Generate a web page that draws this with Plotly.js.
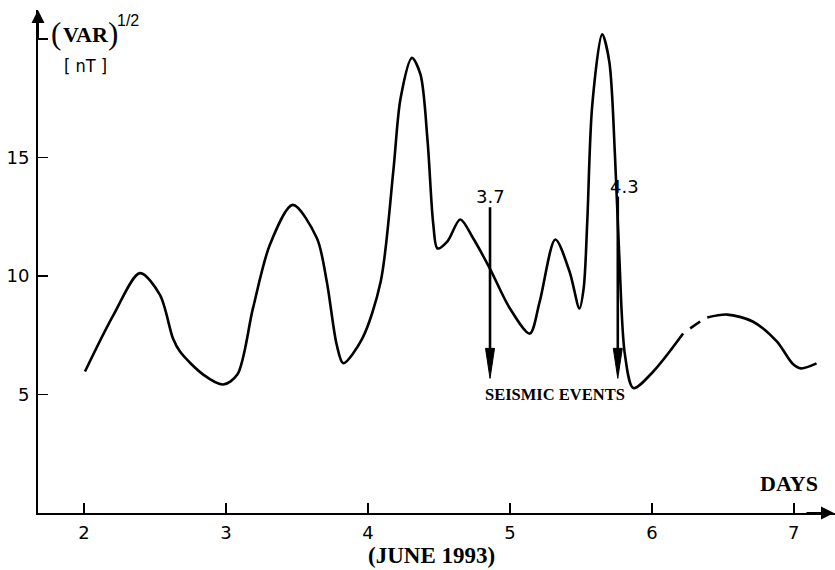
<!DOCTYPE html>
<html>
<head>
<meta charset="utf-8">
<script src="https://cdn.plot.ly/plotly-3.0.1.min.js"></script>
<style>html,body{margin:0;padding:0;background:#fff;}</style>
</head>
<body>
<div id="chart" style="width:835px;height:570px;"></div>
<script>
// Curve (days of June 1993, sqrt(VAR) in nT); null = gap in the line
const days = [2.007, 2.21, 2.394, 2.535, 2.627, 2.676, 2.84, 2.98, 3.08, 3.19, 3.31, 3.47, 3.64, 3.71, 3.78, 3.826,
  3.96, 4.09, 4.18, 4.23, 4.31, 4.37, 4.42, 4.46, 4.49, 4.56, 4.65, 4.74, 4.86, 5.0, 5.14, 5.21, 5.32, 5.42, 5.49,
  5.52, 5.545, 5.58, 5.65, 5.70, 5.74, 5.77, 5.81, 5.87, 6.01, 6.22, 6.245, 6.27, 6.34, 6.365, 6.39, 6.53, 6.71, 6.88, 6.99, 7.05, 7.16];
const varValues = [5.97, 8.38, 10.12, 9.2, 7.36, 6.81, 5.84, 5.42, 5.84, 8.63, 11.33, 13.0, 11.6, 9.77, 7.1, 6.32,
  7.36, 9.77, 14.5, 17.5, 19.2, 18.5, 15.7, 12.2, 11.16, 11.46, 12.38, 11.6, 10.3, 8.63, 7.57, 8.92, 11.54, 10.19, 8.63,
  9.5, 12.3, 17.2, 20.19, 19.05, 15.1, 10.9, 6.69, 5.27, 5.97, 7.57, null, 7.79, 8.08, null, 8.25, 8.37, 8.08, 7.24, 6.31, 6.1, 6.31];

// Seismic events (magnitudes)
const eventDays = [4.86, 5.76];
const eventLabels = ['3.7', '4.3'];
const eventTop = [12.9, 13.35];
const eventBottom = [5.68, 5.68];

// Axis ticks
const xTicks = [2, 3, 4, 5, 6, 7];
const yTicks = [5, 10, 15, 20];
const yTickText = ['5', '10', '15', ''];

const serif = 'Liberation Serif, Times New Roman, serif';
const sans = 'DejaVu Sans, sans-serif';

const traces = [{
  x: days, y: varValues, type: 'scatter', mode: 'lines',
  line: {color: '#000', width: 2.6, shape: 'spline', smoothing: 0.85},
  connectgaps: false, hoverinfo: 'skip', showlegend: false
}];

// plot-area scale: 142 px per day, 23.7 px per nT
const headHalfW = 4.5 / 142, headLen = 30 / 23.7;
const shapes = [];
eventDays.forEach((d, i) => {
  const b = eventBottom[i];
  shapes.push({type: 'line', xref: 'x', yref: 'y', x0: d, x1: d, y0: eventTop[i], y1: b + headLen * 0.5,
    line: {color: '#000', width: 2.6}});
  shapes.push({type: 'path', xref: 'x', yref: 'y',
    path: `M ${d - headHalfW},${b + headLen} L ${d},${b} L ${d + headHalfW},${b + headLen} Z`,
    fillcolor: '#000', line: {color: '#000', width: 1}});
});

// helpers: pixel position -> paper coordinates (plot area x 38..835, y 10..513)
const px = v => (v - 38) / 797;
const py = v => (513 - v) / 503;

const annotations = [];
// axis arrowheads
annotations.push({xref: 'paper', yref: 'paper', x: 0, y: 1, ax: 0, ay: 30, text: '', showarrow: true,
  arrowhead: 2, arrowsize: 1.3, arrowwidth: 2, arrowcolor: '#000'});
annotations.push({xref: 'paper', yref: 'paper', x: 1, y: 0, ax: -30, ay: 0, text: '', showarrow: true,
  arrowhead: 2, arrowsize: 1.3, arrowwidth: 2, arrowcolor: '#000'});
// seismic event labels
eventDays.forEach((d, i) => {
  annotations.push({x: d, y: eventTop[i], xref: 'x', yref: 'y', yanchor: 'bottom', yshift: -2, xshift: (i === 1 ? 7 : 0),
    text: eventLabels[i], showarrow: false, font: {family: sans, size: 18, color: '#000'}});
});
annotations.push({x: 5.32, y: 5.0, xref: 'x', yref: 'y', text: '<b>SEISMIC EVENTS</b>', showarrow: false,
  font: {family: serif, size: 16.5, color: '#000'}});
annotations.push({x: 6.965, y: 1.25, xref: 'x', yref: 'y', text: '<b>DAYS</b>', showarrow: false,
  font: {family: serif, size: 22, color: '#000'}});
annotations.push({x: 4.45, y: 0, xref: 'x', yref: 'paper', yanchor: 'middle', yshift: -42, text: '<b>(JUNE 1993)</b>', showarrow: false,
  font: {family: serif, size: 23, color: '#000'}});
// y axis title: (VAR)^1/2 and unit
const title = (x, y, text, font) => ({xref: 'paper', yref: 'paper', x: px(x), y: py(y), xanchor: 'center', yanchor: 'middle',
  text: text, showarrow: false, borderpad: 0, font: font});
annotations.push(title(56, 33, '(', {family: serif, size: 31, color: '#000'}));
annotations.push(title(85.5, 35, '<b>VAR</b>', {family: serif, size: 22, color: '#000'}));
annotations.push(title(113, 33, ')', {family: serif, size: 31, color: '#000'}));
annotations.push(title(128, 20, '1/2', {family: 'Liberation Sans Narrow, Liberation Sans, sans-serif', size: 16, color: '#000'}));
annotations.push(title(85, 66, '[ nT ]', {family: 'DejaVu Sans Condensed, DejaVu Sans, sans-serif', size: 18, color: '#000'}));

const layout = {
  width: 835, height: 570,
  margin: {l: 38, r: 0, t: 10, b: 57},
  paper_bgcolor: '#fff', plot_bgcolor: '#fff',
  showlegend: false,
  xaxis: {range: [1.676, 7.29], showline: true, linecolor: '#000', linewidth: 2, ticks: 'inside', ticklen: 10,
    tickwidth: 1.5, tickcolor: '#000', tickvals: xTicks, showgrid: false, zeroline: false, automargin: false,
    tickfont: {family: sans, size: 18, color: '#000'}, ticklabelstandoff: 2},
  yaxis: {range: [0, 21.22], showline: true, linecolor: '#000', linewidth: 2, ticks: 'inside', ticklen: 10,
    tickwidth: 1.5, tickcolor: '#000', tickvals: yTicks, ticktext: yTickText, showgrid: false, zeroline: false,
    automargin: false, tickfont: {family: sans, size: 18, color: '#000'}, ticklabelstandoff: 3},
  shapes: shapes,
  annotations: annotations
};

Plotly.newPlot('chart', traces, layout, {displayModeBar: false, staticPlot: true});
</script>
</body>
</html>
